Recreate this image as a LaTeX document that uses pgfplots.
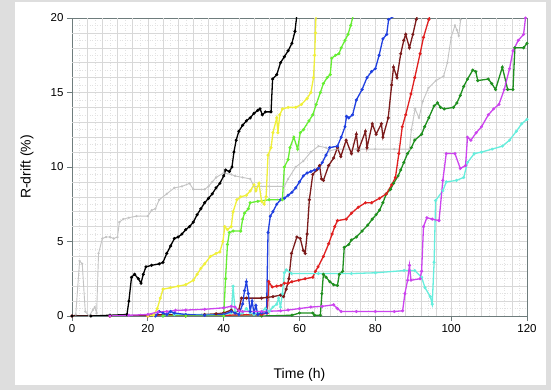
\documentclass[border=0pt]{standalone}
\usepackage{fontspec}
\setmainfont{Liberation Sans}
\usepackage{pgfplots}
\pgfplotsset{compat=1.18}
\definecolor{bgc}{HTML}{DEDEDE}
\definecolor{gridc}{HTML}{D8D8D8}
\definecolor{gridd}{HTML}{E2E2E2}
\definecolor{axc}{HTML}{6E7C7C}
\definecolor{cgray}{HTML}{C4C4C4}
\definecolor{cyel}{HTML}{F0F03A}
\definecolor{clime}{HTML}{66EE33}
\definecolor{cblue}{HTML}{2040E0}
\definecolor{cmar}{HTML}{7B1B1B}
\definecolor{cred}{HTML}{E02020}
\definecolor{cdgr}{HTML}{1F8F1F}
\definecolor{ccyan}{HTML}{66EEDD}
\definecolor{cmag}{HTML}{CC44EE}
\begin{document}
\begin{tikzpicture}[x=1pt,y=1pt]
\fill[bgc] (0,0) rectangle (551,390);
\fill[white] (15,5) rectangle (546,388);
\begin{axis}[at={(72pt,74pt)}, anchor=south west, scale only axis,
  width=455pt, height=298pt,
  xmin=0, xmax=120, ymin=0, ymax=20,
  xtick={0,20,...,120}, ytick={0,5,...,20},
  minor x tick num=9, minor y tick num=9,
  extra x ticks={4,8,12,16,24,28,32,36,44,48,52,56,64,68,72,76,84,88,92,96,104,108,112,116},
  extra y ticks={1,2,3,4,6,7,8,9,11,12,13,14,16,17,18,19},
  extra tick style={grid=major, major tick length=0pt, ticklabel style={opacity=0}},
  extra x tick labels={}, extra y tick labels={},
  grid=both,
  major grid style={color=gridc, line width=0.5pt},
  minor grid style={color=gridd, line width=0.5pt, dotted},
  axis line style={axc, line width=0.9pt},
  tick style={axc, line width=0.9pt},
  major tick length=5pt, minor tick length=0pt,
  tick align=outside, tick pos=left,
  ticklabel style={font=\fontsize{11.5}{13}\selectfont},
  /pgf/number format/assume math mode=true,
  xlabel={Time (h)}, ylabel={R-drift (\%)},
  label style={font=\fontsize{14}{16}\selectfont},
  xlabel style={at={(axis description cs:0.5,-0.198)}, anchor=center},
  ylabel style={at={(axis description cs:-0.099,0.5)}, anchor=center},
  every axis plot/.append style={line width=1.3pt, mark=*, mark size=0.8pt},
]
% gray
\addplot[cgray, line width=0.9pt, mark options={scale=0.8}] coordinates {(0,0) (1,0.1) (2,3.7) (2.7,3.5) (3.5,0.3) (4.5,0) (5.5,0.4) (6,0.6) (6.5,0.2) (7,4.2) (8,5.2) (9,5.3) (10,5.3) (11,5.2) (12,5.3) (12.5,6.3) (13.5,6.5) (15,6.6) (17,6.7) (20,6.7) (21,7.1) (22,7.2) (23,7.8) (25,8.2) (27,8.6) (29,8.7) (31,8.9) (32,8.5) (35,8.5) (36,8.7) (37,9) (38,9.3) (40,9.6) (42,9.5) (43,9.4) (45,9.3) (47,9.2) (48,8.7) (52,8.7) (56,8.7) (57,9.2) (59,10) (61,10.4) (63,11) (65,11.4) (67,11.3) (68,11.1) (70,11.2) (75,11.2) (80,11.2) (85,11.2) (89,11.2) (89.5,12.5) (90.5,13.9) (91.5,13.3) (92.5,14.4) (94,15.3) (96,15.8) (98,16.1) (99,17) (100,18.7) (101,19.5) (101.5,19.2) (102,18.8) (102.5,19.9)};
% dark green
\addplot[cdgr] coordinates {(24,0) (30,0) (40,0) (50,0) (58,0.05) (60,0.2) (63.5,0.2) (64,0.05) (65.5,0.05) (65.9,1.5) (66.3,2.8) (67,2.6) (68,2.3) (69,2.1) (70,2.05) (70.5,2.8) (71.4,3) (71.8,4.6) (73,4.8) (73.7,5.1) (75,5.3) (76.5,5.7) (78,6.1) (79.2,6.5) (80.2,6.8) (81.1,7.1) (82,7.6) (82.9,8.2) (84,8.5) (84.8,8.9) (86,9.4) (86.7,9.8) (87.5,10.3) (88.5,10.9) (89.5,11.3) (90.4,11.8) (92.2,12.2) (93,12.7) (94.1,13.3) (95.5,14.1) (96.4,14.3) (97.2,14) (98.2,13.9) (100.6,14) (101.5,14.3) (102.4,14.8) (103.3,15.4) (104.3,15.9) (105.7,16.5) (106.5,16.4) (107,15.8) (109.8,15.9) (110.7,15.6) (111.7,15.2) (113.5,16.7) (114.9,15.2) (116.3,15.2) (116.8,18) (119.1,18) (120,18.3)};
% red
\addplot[cred] coordinates {(0,0) (10,0) (20,0) (30,0) (40,0.05) (50,0.1) (51.5,0.2) (51.9,2.3) (52.8,1.95) (54,2) (55.1,2.05) (56,2.2) (57,2.2) (58,2.3) (59.8,2.4) (61.5,2.5) (63.5,2.6) (64.2,3) (64.9,3.3) (66.3,4) (67.7,4.85) (68.6,5.5) (69.3,6) (70,6.4) (72.3,6.5) (73.7,6.9) (75.5,7.3) (77.4,7.6) (79,7.6) (81.1,7.9) (82.9,8.2) (84.3,8.8) (85.3,9.3) (86.2,10.9) (87.1,12.7) (88,13.5) (89.4,14.9) (90.4,16) (91.8,17.6) (92.7,18.7) (94.1,19.9) (94.8,20.5)};
% maroon
\addplot[cmar] coordinates {(0,0) (10,0) (20,0.05) (25,0.1) (30,0.05) (35,0.1) (38,0.15) (40,0.2) (42,0.4) (43,0.2) (44,0.4) (44.7,1.2) (46,1.2) (50,1.2) (51.5,1.25) (53,1.3) (55,1.4) (55.8,1.3) (56.5,1.8) (57.2,2.5) (57.9,4.2) (59.3,5.3) (60.2,5.2) (61,4.4) (61.5,4.2) (62,5.5) (62.6,7.8) (63.5,9.5) (64.5,9.8) (65.3,10.1) (65.8,9.2) (66.3,9.1) (67.7,10.1) (69,10.6) (70,11.3) (70.9,10.7) (72.3,11.8) (73.7,10.9) (75,12.2) (75.5,11.1) (77.4,12.4) (77.8,11.3) (79.2,12.9) (80.2,12.2) (81.6,12.9) (82,12) (83.4,13.3) (84.3,15.5) (84.8,16.7) (85.7,16) (86.7,17.6) (87.5,18.5) (88,18.9) (89,18) (89.9,18.9) (90.8,19.9) (91.5,20.5)};
% cyan
\addplot[ccyan] coordinates {(24,0) (25,0.1) (26,0.3) (27,0.1) (30,0.1) (40,0.1) (42,0.2) (42.5,2) (43,0.3) (44,0.1) (45,0.2) (46,0.5) (47,0.2) (48,0.1) (50,0.3) (51,0.5) (52,0.3) (53,0.6) (54,0.8) (54.5,1.2) (55,0.6) (55.5,1.5) (56,2.9) (56.5,3.1) (57.9,2.85) (65,2.85) (73.7,2.85) (80,2.9) (87.6,3.05) (90.4,3.05) (92.2,2.6) (93.1,1.9) (94.5,1.3) (95,0.8) (95.5,3.6) (95.9,7.75) (97.8,8.4) (98.7,9) (101.4,9.1) (103.3,9.3) (104.3,10.3) (106.1,10.9) (108,11) (110.8,11.2) (113.5,11.4) (115.4,11.8) (117.2,12.4) (118.6,12.9) (120,13.2)};
% blue
\addplot[cblue] coordinates {(22,0) (23,0.3) (24,0.2) (25,0.1) (26,0.3) (27,0.2) (30,0.1) (35,0.05) (40,0.1) (42,0.3) (43,0.2) (44,0.1) (45,0.8) (45.5,1.7) (46,2.3) (46.5,1.5) (47,0.3) (47.5,1) (48,0.2) (48.5,0.7) (49,0.1) (50,0.2) (51.3,0.2) (51.7,5.6) (52.3,6.7) (53,7) (54,7.5) (55,7.8) (56,7.9) (57,8.1) (58,8.3) (59,8.6) (60,9) (61,9.4) (62,9.6) (63,9.7) (64,9.8) (65,9.9) (66,10.3) (67,10.8) (68,11.3) (70,11.4) (71,12) (72,12.7) (72.4,13.4) (73,13.3) (74,13.5) (75,14.5) (76.5,15.2) (77.8,16) (79,16.4) (80,16.6) (81,17.5) (82,18.6) (83,18.9) (83.5,19.9) (84.8,20.1)};
% lime
\addplot[clime] coordinates {(24,0) (30,0) (40,0) (40.5,2.5) (41,4.8) (41.5,5.6) (42.5,5.7) (44.5,5.7) (45,6.5) (45.5,6.9) (46.5,7.2) (47,7.6) (49,7.7) (52,7.8) (55.5,7.8) (56,10) (57,10.5) (57.5,11.3) (58.5,12) (59.5,11.2) (60.2,12.3) (61,12.5) (62.5,13.1) (63.5,13.5) (64.4,14.2) (65.5,15) (66.3,15.6) (67.3,16) (68.1,16.2) (68.5,17.3) (69.5,17.5) (70.4,17.6) (71,18) (72,18.5) (72.8,18.9) (73.5,19.5) (74.5,20.5)};
% yellow
\addplot[cyel] coordinates {(20,0) (21.5,0.05) (22.5,0.5) (23.3,1.2) (24,1.8) (26,1.9) (28,2) (30,2.1) (32,2.4) (33,2.8) (34,3.2) (35,3.5) (36.5,4) (38,4.2) (39,4.3) (39.8,5) (40.3,6) (41,5.8) (42,6) (42.5,7) (43.5,7.8) (44.5,8) (46,8.1) (47,8.4) (48,8.8) (48.5,8.4) (49.3,8.9) (50,7.7) (50.7,7.5) (51.2,8) (51.7,10.8) (52.5,11.3) (53,12.3) (54,13.3) (54.3,12.3) (54.8,13.5) (55.5,13.9) (57,14) (59,14) (60.5,14.2) (62,14.6) (63,15) (63.7,16) (64,17.5) (64.2,19) (64.4,20.5)};
% black
\addplot[black] coordinates {(0,0) (5,0) (10,0.05) (14.5,0.1) (15,1) (15.7,2.6) (16.5,2.8) (17.5,2.5) (18.2,2.2) (18.8,2.8) (19.5,3.3) (21,3.4) (23,3.5) (24,3.6) (25,4.2) (26,4.7) (27,5.2) (28,5.3) (29,5.5) (30,5.8) (31,6) (32,6.3) (33,6.8) (34,7.2) (35,7.6) (36,7.9) (37,8.2) (38,8.6) (39,8.9) (40,9.4) (40.5,9.8) (41.5,9.7) (42.2,10) (42.7,11) (43.3,11.8) (44,12.4) (45,12.8) (46,13.1) (47,13.3) (48,13.6) (49,13.8) (49.6,13.9) (50.2,13.5) (51,13.7) (52.5,13.7) (52.9,15.9) (54,16.2) (55,17) (56,17.4) (57,17.8) (58,18.3) (58.8,19.1) (59.3,20.2)};
% magenta
\addplot[cmag] coordinates {(10,0) (15,0.05) (20,0.1) (22.7,0.27) (25,0.3) (27.3,0.38) (30,0.4) (35,0.45) (40,0.55) (42,0.65) (43,0.6) (44,0.35) (45,0.3) (50,0.3) (55,0.35) (57,0.4) (60,0.5) (63,0.6) (66,0.65) (69,0.75) (70,0.5) (71,0.3) (75,0.3) (80,0.3) (85,0.3) (87.2,0.35) (87.8,1.5) (88.5,2.4) (89,3.4) (89.4,2.4) (91.8,2.5) (92.2,3) (92.7,6) (93.6,6.6) (95,6.5) (96.8,6.4) (97.8,9.1) (98.7,10.9) (101,10.9) (102.4,9.9) (103.8,10.1) (104.3,12) (105.2,11.8) (106.6,12.3) (108,12.7) (109.8,13.5) (111.2,13.9) (112.6,14.2) (114,15.2) (115.4,16.6) (116.3,17.8) (117.7,18.5) (119.1,18.9) (119.6,20) (120,20.5)};
\end{axis}
\end{tikzpicture}
\end{document}
